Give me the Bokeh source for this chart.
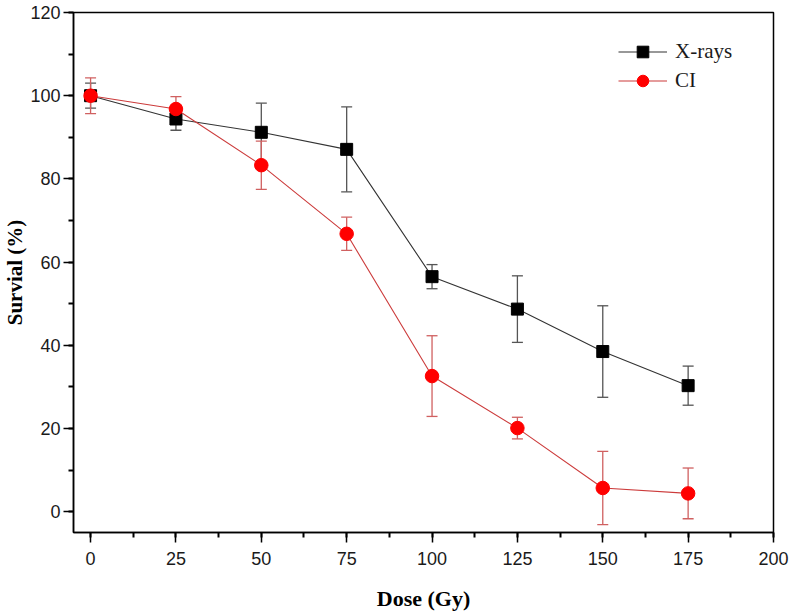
from bokeh.plotting import figure
from bokeh.models import (Range1d, SingleIntervalTicker, Whisker, ColumnDataSource,
                          Legend, LegendItem, TeeHead)
from bokeh.embed import file_html
from bokeh.resources import INLINE

# ---- data ----
dose = [0, 25, 50, 75, 100, 125, 150, 175]
xray_survival = [100.0, 94.4, 91.2, 87.1, 56.5, 48.7, 38.5, 30.3]
xray_err = [3.0, 2.7, 7.0, 10.2, 2.9, 8.0, 11.0, 4.7]
ci_survival = [100.0, 96.8, 83.3, 66.8, 32.6, 20.1, 5.7, 4.4]
ci_err = [4.3, 3.0, 5.8, 4.0, 9.7, 2.6, 8.8, 6.1]
series_names = ["X-rays", "CI"]
x_label = "Dose (Gy)"
y_label = "Survial (%)"

xs = ColumnDataSource(dict(
    x=dose, y=xray_survival,
    lo=[v - e for v, e in zip(xray_survival, xray_err)],
    hi=[v + e for v, e in zip(xray_survival, xray_err)]))
cs = ColumnDataSource(dict(
    x=dose, y=ci_survival,
    lo=[v - e for v, e in zip(ci_survival, ci_err)],
    hi=[v + e for v, e in zip(ci_survival, ci_err)]))

p = figure(width=792, height=613, output_backend="svg", toolbar_location=None,
           x_range=Range1d(-5, 200), y_range=Range1d(-5, 120),
           min_border_left=73, min_border_right=19, min_border_top=12,
           min_border_bottom=81)

p.xgrid.visible = False
p.ygrid.visible = False
p.outline_line_color = "black"
p.outline_line_width = 1.5
p.background_fill_color = "white"
p.border_fill_color = "white"

# axes
p.xaxis.ticker = SingleIntervalTicker(interval=25, num_minor_ticks=2)
p.yaxis.ticker = SingleIntervalTicker(interval=20, num_minor_ticks=2)
for ax in (p.xaxis[0], p.yaxis[0]):
    ax.axis_line_color = "black"
    ax.axis_line_width = 1.5
    ax.major_tick_line_color = "black"
    ax.major_tick_line_width = 1.5
    ax.minor_tick_line_color = "black"
    ax.minor_tick_line_width = 2
    ax.major_tick_out = 10
    ax.major_tick_in = 0
    ax.minor_tick_out = 5
    ax.minor_tick_in = 0
    ax.major_label_text_font = "Liberation Sans"
    ax.major_label_text_font_size = "18px"
    ax.major_label_text_color = "#1a1a1a"
    ax.axis_label_text_font = "Liberation Serif"
    ax.axis_label_text_font_style = "bold"
    ax.axis_label_text_font_size = "22px"
    ax.axis_label_text_color = "black"
p.xaxis.axis_label = x_label
p.yaxis.axis_label = y_label
p.xaxis.major_label_standoff = 9
p.xaxis.axis_label_standoff = 18
p.yaxis.major_label_standoff = 3
p.yaxis.axis_label_standoff = 0
p.yaxis.axis_label_text_font_size = "21px"

# error bars
wx = Whisker(source=xs, base="x", lower="lo", upper="hi", level="underlay",
             line_color="#555555", line_width=1.3,
             upper_head=TeeHead(size=11, line_color="#555555", line_width=1.3),
             lower_head=TeeHead(size=11, line_color="#555555", line_width=1.3))
wc = Whisker(source=cs, base="x", lower="lo", upper="hi", level="underlay",
             line_color="#d06060", line_width=1.3,
             upper_head=TeeHead(size=11, line_color="#d06060", line_width=1.3),
             lower_head=TeeHead(size=11, line_color="#d06060", line_width=1.3))
p.add_layout(wx)
p.add_layout(wc)

lx = p.line("x", "y", source=xs, line_color="#333333", line_width=1.1)
mx = p.scatter("x", "y", source=xs, marker="square", size=12,
               fill_color="black", line_color="black")
lc = p.line("x", "y", source=cs, line_color="#cc3b3b", line_width=1.1)
mc = p.scatter("x", "y", source=cs, marker="circle", size=13.5,
               fill_color="#ff0000", line_color="#ff0000")

legend = Legend(items=[LegendItem(label=series_names[0], renderers=[lx, mx]),
                       LegendItem(label=series_names[1], renderers=[lc, mc])],
                location="top_right", margin=25, padding=0, spacing=0,
                glyph_width=49, glyph_height=29, label_height=24, label_width=73,
                label_standoff=8, border_line_color=None,
                background_fill_alpha=0,
                label_text_font="Liberation Serif", label_text_font_size="21px",
                label_text_color="#1a1a1a")
p.add_layout(legend)

open("out.html", "w").write(file_html(p, INLINE))
